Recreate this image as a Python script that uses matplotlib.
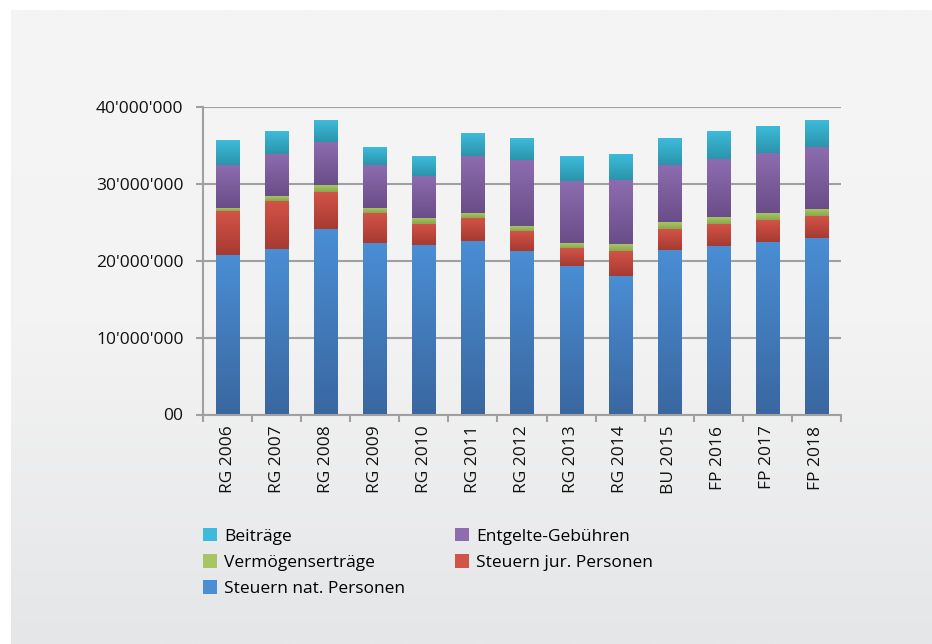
import numpy as np
import matplotlib
matplotlib.use("Agg")
import matplotlib.pyplot as plt
from matplotlib.colors import LinearSegmentedColormap
from matplotlib.patches import Patch
from matplotlib.ticker import FuncFormatter, MultipleLocator

plt.rcParams['font.family'] = ['Open Sans', 'DejaVu Sans']

# values in millions
years = ['RG 2006', 'RG 2007', 'RG 2008', 'RG 2009', 'RG 2010', 'RG 2011', 'RG 2012',
         'RG 2013', 'RG 2014', 'BU 2015', 'FP 2016', 'FP 2017', 'FP 2018']
steuern_nat = [20.75, 21.53, 24.13, 22.31, 22.00, 22.57, 21.27, 19.32, 18.02, 21.40, 21.92, 22.44, 22.96]
steuern_jur = [5.72, 6.24, 4.81, 3.90, 2.75, 3.03, 2.60, 2.34, 3.25, 2.73, 2.86, 2.86, 2.86]
vermoegen = [0.39, 0.65, 0.91, 0.65, 0.79, 0.61, 0.65, 0.65, 0.91, 0.91, 0.91, 0.91, 0.91]
entgelte = [5.60, 5.51, 5.64, 5.60, 5.48, 7.46, 8.63, 8.06, 8.32, 7.42, 7.51, 7.81, 8.07]
beitraege = [3.24, 2.95, 2.82, 2.34, 2.48, 2.95, 2.82, 3.13, 3.26, 3.51, 3.55, 3.51, 3.51]

series = [
    ('Steuern nat. Personen', steuern_nat, '#4a8ed4', '#3a67a0'),
    ('Steuern jur. Personen', steuern_jur, '#d35348', '#a73a31'),
    ('Vermögenserträge', vermoegen, '#a8c563', '#89a74c'),
    ('Entgelte-Gebühren', entgelte, '#8d6db0', '#694d88'),
    ('Beiträge', beitraege, '#3ebbda', '#2a94ac'),
]

fig = plt.figure(figsize=(9.32, 6.44), dpi=100)
fig.patch.set_facecolor('white')

# card background with soft gradient
bg = fig.add_axes([11 / 932, 0, 1 - 11 / 932, 634 / 644], zorder=-10)
grad = np.linspace(0, 1, 256).reshape(-1, 1)
bg_cmap = LinearSegmentedColormap.from_list('bg', ['#f5f5f5', '#f3f3f3', '#e5e6e8'])
bg.imshow(grad, aspect='auto', cmap=bg_cmap, extent=[0, 1, 0, 1], origin='upper')
bg.axis('off')

ax = fig.add_axes([203 / 932, (644 - 414.5) / 644, (841 - 203) / 932, (414.5 - 107) / 644])
ax.set_facecolor('none')

x = np.arange(len(years))
bottom = np.zeros(len(years))
handles = {}
for name, vals, top_c, bot_c in series:
    vals = np.array(vals) * 1e6
    bars = ax.bar(x, vals, width=0.47, bottom=bottom, color=top_c, zorder=3)
    cmap = LinearSegmentedColormap.from_list(name, [bot_c, top_c])
    for b in bars:
        x0, y0 = b.get_x(), b.get_y()
        ax.imshow(grad[::-1], aspect='auto', cmap=cmap, zorder=4,
                  extent=[x0, x0 + b.get_width(), y0, y0 + b.get_height()])
    handles[name] = Patch(facecolor=top_c, edgecolor='none')
    bottom += vals

ax.set_xlim(-0.5, len(years) - 0.5)
ax.set_ylim(0, 40e6)
ax.yaxis.set_major_locator(MultipleLocator(10e6))
ax.yaxis.set_major_formatter(FuncFormatter(
    lambda v, p: '00' if v == 0 else f'{v:,.0f}'.replace(',', "'")))
ax.grid(axis='y', color='#a0a0a0', linewidth=1.5, zorder=1)
ax.set_axisbelow(True)

for s in ['top', 'right']:
    ax.spines[s].set_visible(False)
for s in ['left', 'bottom']:
    ax.spines[s].set_color('#a0a0a0')
    ax.spines[s].set_linewidth(1.5)
    ax.spines[s].set_zorder(5)

ax.set_xticks(x)
ax.set_xticklabels(years, rotation=90)
ax.set_xticks(np.arange(-0.5, len(years)), minor=True)
ax.tick_params(axis='x', which='major', length=0, pad=8, labelsize=12.5, labelcolor='#111111')
ax.tick_params(axis='x', which='minor', length=5, width=1.5, color='#a0a0a0')
ax.tick_params(axis='y', length=5, width=1.5, color='#a0a0a0', pad=9,
               labelsize=12.5, labelcolor='#111111')

order = ['Beiträge', 'Vermögenserträge', 'Steuern nat. Personen',
         'Entgelte-Gebühren', 'Steuern jur. Personen']
fig.legend([handles[n] for n in order], order, ncol=2, loc='upper left',
           bbox_to_anchor=(203 / 932, (644 - 528) / 644), frameon=False,
           fontsize=12.5, handlelength=0.8, handleheight=0.8, handletextpad=0.4,
           borderpad=0, borderaxespad=0, labelspacing=0.55, columnspacing=2.9)

fig.savefig('out.png', dpi=100)
